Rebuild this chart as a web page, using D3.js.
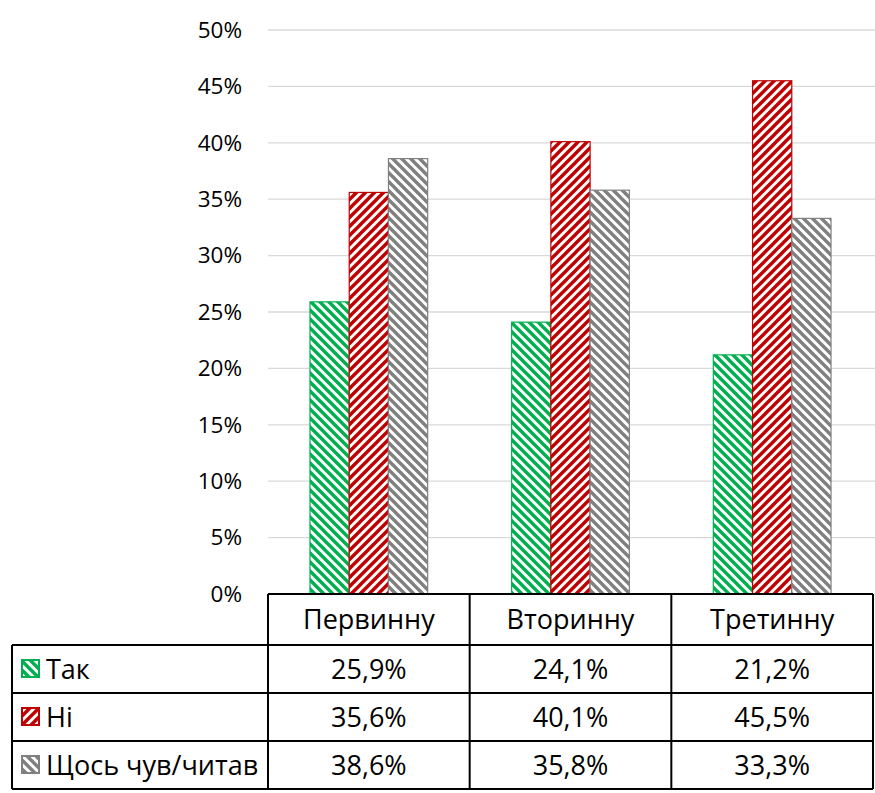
<!DOCTYPE html>
<html><head><meta charset="utf-8">
<script src="https://cdn.jsdelivr.net/npm/d3@7"></script>
<style>body{margin:0;background:#fff}svg{display:block}</style>
</head><body>
<script>
const categories = ["Первинну", "Вторинну", "Третинну"];
const seriesNames = ["Так", "Ні", "Щось чув/читав"];
const tak = [25.9, 24.1, 21.2];
const ni = [35.6, 40.1, 45.5];
const shchos = [38.6, 35.8, 33.3];
const yTicks = [0, 5, 10, 15, 20, 25, 30, 35, 40, 45, 50];
const colors = ["#00B050", "#C00000", "#808080"];
const dirs = ["down", "up", "down"];
const seriesValues = [tak, ni, shchos];

const W = 875, H = 793;
const font = "'Open Sans', sans-serif";
const plotLeft = 268, plotRight = 873, plotTop = 30, plotBottom = 594;
const rowYs = [594, 645, 693, 741, 789];
const tableLeft = 12;

const svg = d3.select("body").append("svg").attr("width", W).attr("height", H);
const defs = svg.append("defs");
colors.forEach((c, i) => {
  const p = defs.append("pattern").attr("id", "pat" + i)
    .attr("patternUnits", "userSpaceOnUse").attr("width", 9).attr("height", 9);
  p.append("rect").attr("width", 9).attr("height", 9).attr("fill", "#fff");
  const d = dirs[i] === "down"
    ? "M-1,-1 L10,10 M-3,6 L3,12 M6,-3 L12,3"
    : "M-1,10 L10,-1 M-3,3 L3,-3 M6,12 L12,6";
  p.append("path").attr("d", d).attr("stroke", c).attr("stroke-width", 3.4).attr("fill", "none");
});

const y = d3.scaleLinear().domain([0, 50]).range([plotBottom, plotTop]);
const x0 = d3.scaleBand().domain(categories).range([plotLeft, plotRight]).paddingInner(0).paddingOuter(0);
const x1 = d3.scaleBand().domain(d3.range(3)).range([0, x0.bandwidth()]).paddingOuter(1.07);

// grid
svg.append("g").selectAll("line").data(yTicks.filter(t => t > 0)).join("line")
  .attr("x1", plotLeft).attr("x2", W).attr("y1", d => y(d)).attr("y2", d => y(d))
  .attr("stroke", "#D9D9D9").attr("stroke-width", 1.3);

// y axis labels
const yAxis = d3.axisLeft(y).tickValues(yTicks).tickFormat(d => d + "%").tickSize(0).tickPadding(0);
const ya = svg.append("g").attr("transform", `translate(${plotLeft - 26},0)`).call(yAxis);
ya.select(".domain").remove();
ya.selectAll("text").attr("font-family", font).attr("font-size", 22.5).attr("fill", "#000");

// bars
const g = svg.append("g");
categories.forEach((cat, ci) => {
  seriesValues.forEach((vals, si) => {
    g.append("rect")
      .attr("x", x0(cat) + x1(si)).attr("width", x1.bandwidth())
      .attr("y", y(vals[ci])).attr("height", y(0) - y(vals[ci]))
      .attr("fill", `url(#pat${si})`).attr("stroke", colors[si]).attr("stroke-width", 1.2);
  });
});

// table
const tg = svg.append("g").attr("stroke", "#000").attr("stroke-width", 2);
tg.append("line").attr("x1", plotLeft).attr("x2", plotRight).attr("y1", rowYs[0]).attr("y2", rowYs[0]);
rowYs.slice(1).forEach(ry => tg.append("line").attr("x1", tableLeft).attr("x2", plotRight).attr("y1", ry).attr("y2", ry));
tg.append("line").attr("x1", tableLeft).attr("x2", tableLeft).attr("y1", rowYs[1]).attr("y2", rowYs[4]);
categories.forEach(cat => tg.append("line").attr("x1", x0(cat)).attr("x2", x0(cat)).attr("y1", rowYs[0]).attr("y2", rowYs[4]));
tg.append("line").attr("x1", plotRight).attr("x2", plotRight).attr("y1", rowYs[0]).attr("y2", rowYs[4]);

const txt = svg.append("g").attr("font-family", font).attr("font-size", 27).attr("fill", "#000");
categories.forEach((cat, ci) => {
  txt.append("text").attr("x", x0(cat) + x0.bandwidth() / 2).attr("y", (rowYs[0] + rowYs[1]) / 2)
    .attr("dy", "0.36em").attr("text-anchor", "middle").text(cat);
  seriesValues.forEach((vals, si) => {
    txt.append("text").attr("x", x0(cat) + x0.bandwidth() / 2).attr("y", (rowYs[si + 1] + rowYs[si + 2]) / 2)
      .attr("dy", "0.36em").attr("text-anchor", "middle").text(vals[ci].toFixed(1).replace(".", ",") + "%");
  });
});
seriesNames.forEach((name, si) => {
  const cy = (rowYs[si + 1] + rowYs[si + 2]) / 2;
  svg.append("rect").attr("x", 22).attr("y", cy - 9).attr("width", 17).attr("height", 17)
    .attr("fill", `url(#pat${si})`).attr("stroke", colors[si]).attr("stroke-width", 2);
  txt.append("text").attr("x", 46).attr("y", cy).attr("dy", "0.36em").text(name);
});
</script>
</body></html>
